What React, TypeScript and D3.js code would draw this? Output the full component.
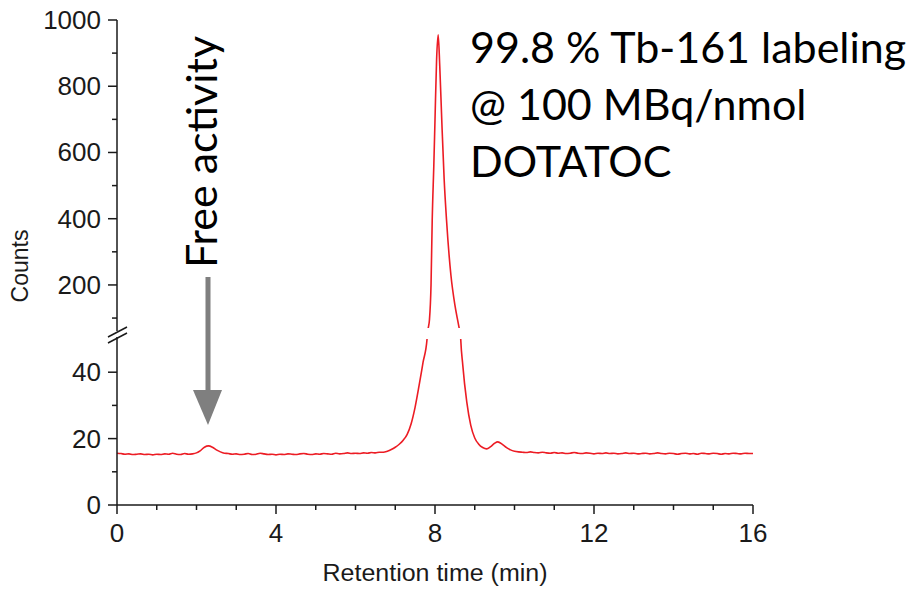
import React from 'react';
import * as d3 from 'd3';

// baseline counts, t = 0.0 .. 6.6 min every 0.1 min
const baseStart = [
  15.6, 15.5, 15.3, 15.4, 15.2, 15.3, 15.4, 15.2, 15.3, 15.1,
  15.3, 15.2, 15.4, 15.3, 15.6, 15.3, 15.2, 15.5, 15.3, 15.4,
  15.7, 16.4, 17.4, 17.8, 17.4, 16.6, 16.0, 15.6, 15.5, 15.3,
  15.4, 15.2, 15.3, 15.5, 15.2, 15.3, 15.6, 15.4, 15.2, 15.3,
  15.1, 15.3, 15.2, 15.4, 15.3, 15.2, 15.4, 15.5, 15.3, 15.2,
  15.4, 15.3, 15.5, 15.4, 15.3, 15.6, 15.4, 15.5, 15.7, 15.5,
  15.6, 15.5, 15.7, 15.6, 15.8, 15.7, 15.9,
];

// main peak region [time, counts]
const peak: [number, number][] = [
  [6.7, 15.9], [6.8, 16.2], [6.9, 16.7], [7.0, 17.4], [7.1, 18.3],
  [7.2, 19.5], [7.3, 21.3], [7.4, 24.5], [7.5, 29.5], [7.6, 36],
  [7.7, 43], [7.8, 50], [7.83, 70], [7.86, 94], [7.9, 200],
  [7.93, 396], [7.97, 560], [8.0, 698], [8.04, 880], [8.08, 955],
  [8.12, 860], [8.17, 698], [8.23, 520], [8.29, 396], [8.4, 230],
  [8.5, 140], [8.56, 100], [8.6, 75], [8.64, 52], [8.7, 42],
  [8.8, 31], [8.9, 24], [9.0, 20.2], [9.1, 18.3], [9.2, 17.3],
  [9.3, 16.9], [9.4, 17.6], [9.5, 18.6], [9.58, 19.0], [9.7, 18.2],
  [9.8, 17.3], [9.9, 16.6], [10.0, 16.2],
];

// baseline counts, t = 10.1 .. 16.0 min every 0.1 min
const baseEnd = [
  16.0, 15.9, 15.8, 16.0, 15.8, 15.7, 15.9, 15.7, 15.6, 15.8,
  15.6, 15.7, 15.5, 15.6, 15.8, 15.6, 15.5, 15.7, 15.6, 15.4,
  15.6, 15.5, 15.7, 15.5, 15.6, 15.4, 15.5, 15.7, 15.5, 15.6,
  15.4, 15.5, 15.6, 15.4, 15.5, 15.7, 15.5, 15.4, 15.6, 15.5,
  15.3, 15.5, 15.6, 15.4, 15.5, 15.3, 15.6, 15.5, 15.4, 15.6,
  15.5, 15.3, 15.5, 15.4, 15.6, 15.5, 15.4, 15.6, 15.5, 15.5,
];

const xTicks = [0, 4, 8, 12, 16];
const xMinor = d3.range(0, 17, 1);
const upperTicks = [200, 400, 600, 800, 1000];
const upperMinor = [100, 300, 500, 700, 900];
const lowerTicks = [0, 20, 40];
const lowerMinor = [10, 30];
const noteLines = ['99.8 % Tb-161 labeling', '@ 100 MBq/nmol', 'DOTATOC'];

const series: [number, number][] = [
  ...baseStart.map((c, i) => [+(i * 0.1).toFixed(2), c] as [number, number]),
  ...peak,
  ...baseEnd.map((c, i) => [+(10.1 + i * 0.1).toFixed(2), c] as [number, number]),
];

const axisFont = '"Liberation Sans", Arial, sans-serif';
const noteFont = 'Lato, "Open Sans", sans-serif';
const red = '#ec1c24';
const ink = '#1a1a1a';

export default function App() {
  const x0 = 117, x1 = 753;
  const x = d3.scaleLinear().domain([0, 16]).range([x0, x1]);
  const yUp = d3.scaleLinear().domain([70, 1000]).range([328, 20]);
  const yLo = d3.scaleLinear().domain([0, 50]).range([505, 339]);

  const lineUp = d3.line<[number, number]>().x(d => x(d[0])).y(d => yUp(d[1])).curve(d3.curveMonotoneX);
  const lineLo = d3.line<[number, number]>().x(d => x(d[0])).y(d => yLo(d[1])).curve(d3.curveMonotoneX);

  const tickText = { fontFamily: axisFont, fontSize: 26, fill: ink };

  return (
    <svg width={914} height={590} style={{ position: 'absolute', left: 0, top: 0, background: '#fff' }}>
      <defs>
        <clipPath id="clipUp"><rect x={x0} y={0} width={x1 - x0} height={328} /></clipPath>
        <clipPath id="clipLo"><rect x={x0} y={339} width={x1 - x0} height={170} /></clipPath>
      </defs>

      {/* data */}
      <path d={lineUp(series) ?? ''} fill="none" stroke={red} strokeWidth={1.6} clipPath="url(#clipUp)" />
      <path d={lineLo(series) ?? ''} fill="none" stroke={red} strokeWidth={1.6} clipPath="url(#clipLo)" />

      {/* x axis */}
      <line x1={x0} x2={x1} y1={505} y2={505} stroke={ink} strokeWidth={1.5} />
      {xMinor.map(t => (
        <line key={'xm' + t} x1={x(t)} x2={x(t)} y1={505} y2={xTicks.includes(t) ? 514 : 510} stroke={ink} strokeWidth={1.5} />
      ))}
      {xTicks.map(t => (
        <text key={'xt' + t} x={x(t)} y={542} textAnchor="middle" {...tickText}>{t}</text>
      ))}
      <text x={435} y={581} textAnchor="middle" fontFamily={axisFont} fontSize={23} fill={ink} textLength={225} lengthAdjust="spacingAndGlyphs">Retention time (min)</text>

      {/* y axis, broken */}
      <line x1={x0} x2={x0} y1={20} y2={331} stroke={ink} strokeWidth={1.5} />
      <line x1={x0} x2={x0} y1={337} y2={505} stroke={ink} strokeWidth={1.5} />
      <line x1={108} x2={127} y1={337} y2={327} stroke={ink} strokeWidth={1.5} />
      <line x1={108} x2={127} y1={343} y2={333} stroke={ink} strokeWidth={1.5} />
      {upperTicks.map(v => (
        <g key={'yu' + v}>
          <line x1={x0 - 9} x2={x0} y1={yUp(v)} y2={yUp(v)} stroke={ink} strokeWidth={1.5} />
          <text x={101} y={yUp(v) + 9} textAnchor="end" {...tickText}>{v}</text>
        </g>
      ))}
      {upperMinor.map(v => (
        <line key={'yum' + v} x1={x0 - 5} x2={x0} y1={yUp(v)} y2={yUp(v)} stroke={ink} strokeWidth={1.5} />
      ))}
      {lowerTicks.map(v => (
        <g key={'yl' + v}>
          <line x1={x0 - 9} x2={x0} y1={yLo(v)} y2={yLo(v)} stroke={ink} strokeWidth={1.5} />
          <text x={101} y={yLo(v) + 9} textAnchor="end" {...tickText}>{v}</text>
        </g>
      ))}
      {lowerMinor.map(v => (
        <line key={'ylm' + v} x1={x0 - 5} x2={x0} y1={yLo(v)} y2={yLo(v)} stroke={ink} strokeWidth={1.5} />
      ))}
      <text transform="translate(28,266) rotate(-90)" textAnchor="middle" fontFamily={axisFont} fontSize={23} fill={ink}>Counts</text>

      {/* annotations */}
      {noteLines.map((s, i) => (
        <text key={s} x={470} y={63 + i * 57} fontFamily={noteFont} fontSize={43} fill="#000">{s}</text>
      ))}
      <text transform="translate(217,268) rotate(-90)" fontFamily={noteFont} fontSize={43} fill="#000">Free activity</text>
      <rect x={205.5} y={277} width={5} height={115} fill="#7f7f7f" />
      <path d="M193,390 L222,390 L208,425 Z" fill="#7f7f7f" />
    </svg>
  );
}
